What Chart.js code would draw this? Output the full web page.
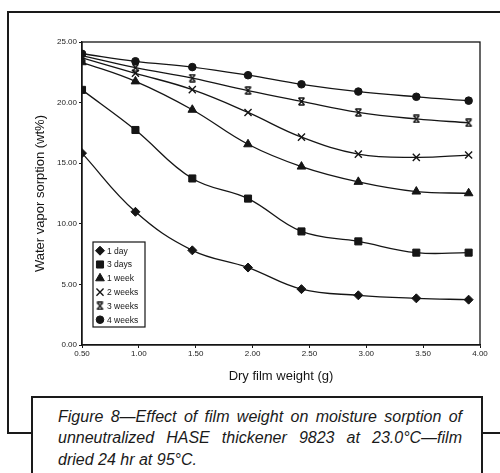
<!DOCTYPE html>
<html><head><meta charset="utf-8">
<script src="https://cdn.jsdelivr.net/npm/chart.js@4"></script>
<style>
html,body{margin:0;padding:0;background:#fff;}
#wrap{position:relative;width:500px;height:473px;overflow:hidden;background:#fff;}
#frame{position:absolute;left:7px;top:11px;width:520px;height:419px;border:2px solid #1a1a1a;border-right:none;}
#c{position:absolute;left:0;top:0;}
#cap{position:absolute;left:31px;top:396px;width:452px;height:100px;border:2px solid #1a1a1a;background:#fff;font-family:"Liberation Sans",Arial,sans-serif;font-style:italic;font-size:16px;line-height:21.3px;color:#1a1a1a;padding-top:8px;box-sizing:border-box;}
#cap div{margin-left:25px;width:404px;}
#cap .j{text-align:justify;text-align-last:justify;}
</style>
</head><body>
<div id="wrap">
<div id="frame"></div>
<canvas id="c" width="500" height="473"></canvas>
<div id="cap">
<div class="j">Figure 8—Effect of film weight on moisture sorption of</div>
<div class="j">unneutralized HASE thickener 9823 at 23.0°C—film</div>
<div>dried 24 hr at 95°C.</div>
</div>
</div>
<script>
const filmWeight = [0.50, 0.97, 1.47, 1.96, 2.43, 2.93, 3.44, 3.90];
const seriesNames = ['1 day', '3 days', '1 week', '2 weeks', '3 weeks', '4 weeks'];
const oneDay   = [15.83, 10.99, 7.81, 6.39, 4.61, 4.10, 3.85, 3.74];
const threeDays= [21.05, 17.74, 13.74, 12.08, 9.37, 8.55, 7.62, 7.62];
const oneWeek  = [23.33, 21.75, 19.41, 16.56, 14.72, 13.46, 12.66, 12.52];
const twoWeeks = [23.69, 22.42, 21.07, 19.19, 17.15, 15.75, 15.48, 15.67];
const threeWeeks=[23.87, 22.88, 22.02, 20.99, 20.10, 19.19, 18.65, 18.33];
const fourWeeks= [24.03, 23.41, 22.93, 22.26, 21.51, 20.91, 20.48, 20.16];
const yTicks = [0, 5, 10, 15, 20, 25];
const xTicks = [0.5, 1, 1.5, 2, 2.5, 3, 3.5, 4];

const INK = '#151515';

function hourglass(){
  const c = document.createElement('canvas');
  c.width = 9; c.height = 9;
  const g = c.getContext('2d');
  g.strokeStyle = INK; g.lineWidth = 1.4;
  g.beginPath();
  g.moveTo(1.5,1); g.lineTo(7.5,8);
  g.moveTo(7.5,1); g.lineTo(1.5,8);
  g.moveTo(1.5,1); g.lineTo(7.5,1);
  g.moveTo(1.5,8); g.lineTo(7.5,8);
  g.stroke();
  return c;
}
const hg = hourglass();

const allSeries = [oneDay, threeDays, oneWeek, twoWeeks, threeWeeks, fourWeeks];
const styles = [
  {pointStyle:'rectRot', radius:4.5},
  {pointStyle:'rect', radius:5},
  {pointStyle:'triangle', radius:5},
  {pointStyle:'crossRot', radius:5},
  {pointStyle:hg, radius:4.5},
  {pointStyle:'circle', radius:3.8}
];

const datasets = allSeries.map((vals, i) => ({
  label: seriesNames[i],
  data: vals.map((v, k) => ({x: filmWeight[k], y: v})),
  borderColor: INK,
  backgroundColor: INK,
  borderWidth: 1.3,
  pointStyle: styles[i].pointStyle,
  pointRadius: styles[i].radius,
  pointBorderWidth: styles[i].pointStyle === 'crossRot' ? 1.4 : 1,
  pointBackgroundColor: INK,
  pointBorderColor: INK,
  tension: 0.4,
  fill: false
}));

const framePlugin = {
  id: 'frame',
  afterDraw(chart){
    const {ctx, chartArea:a} = chart;
    ctx.save();
    ctx.strokeStyle = INK; ctx.lineWidth = 1.3;
    ctx.strokeRect(a.left, a.top, a.right - a.left, a.bottom - a.top);
    ctx.restore();
  }
};

const legendPlugin = {
  id: 'innerLegend',
  afterDraw(chart){
    const ctx = chart.ctx;
    const bx = 93, by = 242, bw = 52, bh = 85;
    ctx.save();
    ctx.fillStyle = '#fff';
    ctx.fillRect(bx, by, bw, bh);
    ctx.strokeStyle = INK; ctx.lineWidth = 1.2;
    ctx.strokeRect(bx, by, bw, bh);
    ctx.font = '8.5px "Liberation Sans", Arial, sans-serif';
    ctx.textBaseline = 'middle';
    ctx.textAlign = 'left';
    seriesNames.forEach((name, i) => {
      const y = 250.7 + i * 13.8;
      const st = styles[i];
      ctx.fillStyle = INK; ctx.strokeStyle = INK;
      ctx.lineWidth = st.pointStyle === 'crossRot' ? 1.4 : 1;
      Chart.helpers.drawPoint(ctx, {pointStyle: st.pointStyle, radius: st.radius, rotation: 0, borderWidth: ctx.lineWidth}, 100, y);
      ctx.fillStyle = INK;
      ctx.fillText(name, 107, y + 0.5);
    });
    ctx.restore();
  }
};

const font = {family: '"Liberation Sans", Arial, sans-serif'};

new Chart(document.getElementById('c'), {
  type: 'line',
  data: {datasets},
  options: {
    responsive: false,
    animation: false,
    layout: {padding: {left: 0, right: 20, top: 42, bottom: 0}},
    plugins: {legend: {display: false}, tooltip: {enabled: false}},
    scales: {
      x: {
        type: 'linear', min: 0.5, max: 4,
        afterBuildTicks(s){ s.ticks = xTicks.map(v => ({value: v})); },
        ticks: {callback: v => Number(v).toFixed(2), font: {...font, size: 8}, color: '#222', padding: 1, maxRotation: 0, autoSkip: false},
        grid: {drawOnChartArea: false, tickLength: 3, color: INK},
        border: {color: INK, width: 1.3},
        title: {display: true, text: 'Dry film weight (g)', font: {...font, size: 13}, color: INK, padding: {top: 0, bottom: 89}},
        afterFit(s){ s.height = 128; }
      },
      y: {
        min: 0, max: 25,
        afterBuildTicks(s){ s.ticks = yTicks.map(v => ({value: v})); },
        ticks: {callback: v => Number(v).toFixed(2), font: {...font, size: 8}, color: '#222', padding: 2},
        grid: {drawOnChartArea: false, tickLength: 3, color: INK},
        border: {color: INK, width: 1.3},
        title: {display: true, text: 'Water vapor sorption (wt%)', font: {...font, size: 13}, color: INK, padding: {top: 32.5, bottom: 0}},
        afterFit(s){ s.width = 82; }
      }
    }
  },
  plugins: [framePlugin, legendPlugin]
});
</script>
</body></html>
